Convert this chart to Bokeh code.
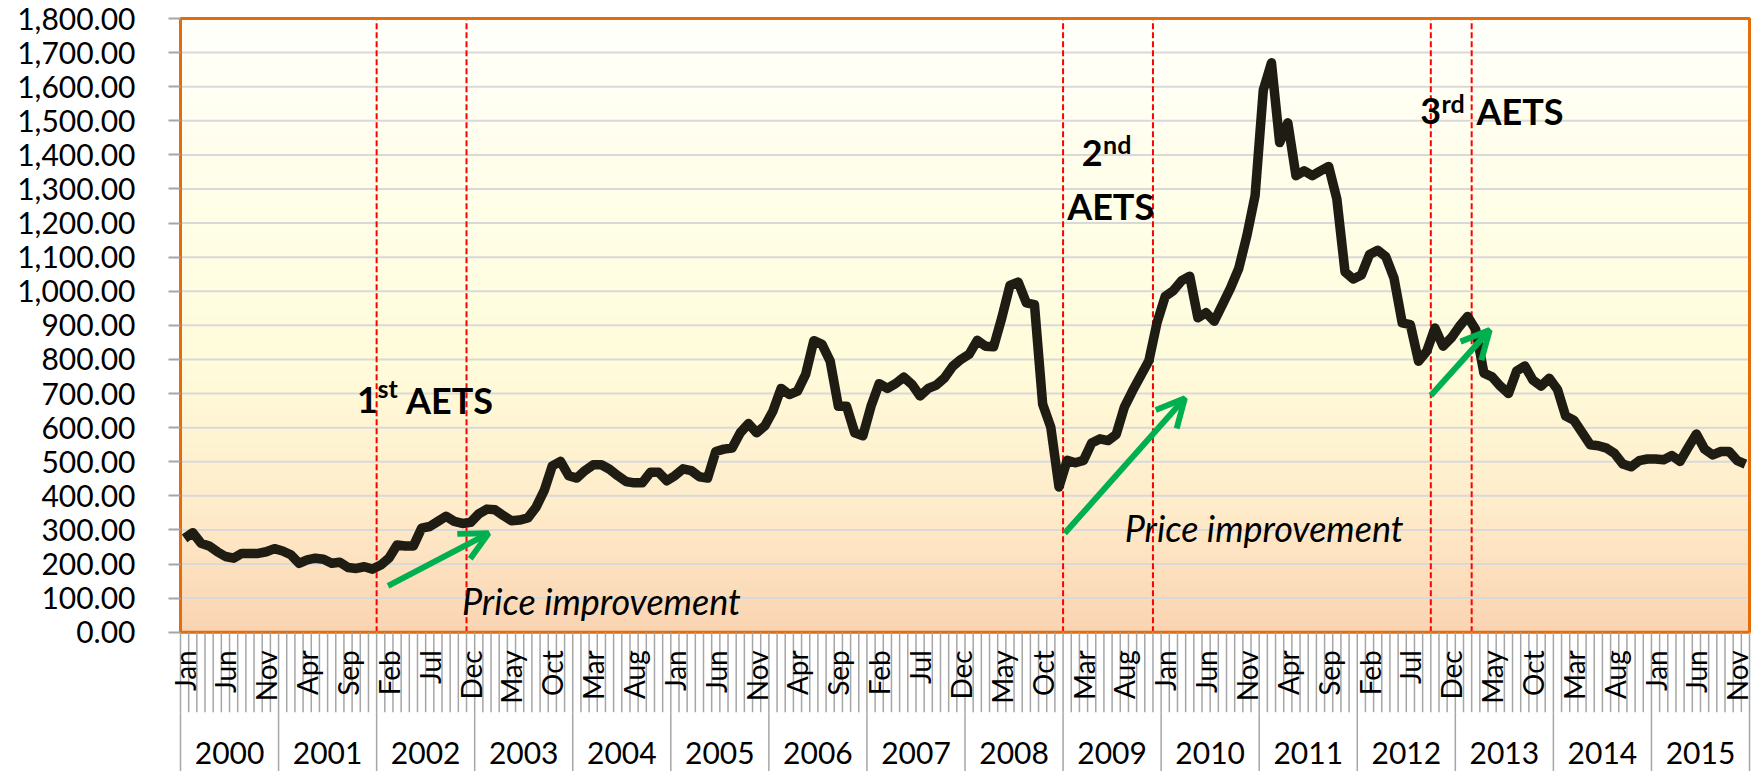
import numpy as np
from bokeh.plotting import figure
from bokeh.models import Range1d, FixedTicker, NumeralTickFormatter, Arrow, OpenHead
from bokeh.core.properties import value
from bokeh.embed import file_html
from bokeh.resources import INLINE

# ---------------- data ----------------
years = [str(y) for y in range(2000, 2016)]
month_names = ["Jan", "Feb", "Mar", "Apr", "May", "Jun",
               "Jul", "Aug", "Sep", "Oct", "Nov", "Dec"]

p2000 = [275, 292, 261, 253, 236, 222, 217, 231, 231, 231, 236, 245]
p2001 = [238, 227, 202, 212, 217, 214, 202, 205, 190, 187, 192, 185]
p2002 = [197, 217, 256, 253, 253, 305, 310, 325, 340, 325, 319, 322]
p2003 = [347, 361, 359, 342, 327, 329, 335, 366, 415, 488, 501, 459]
p2004 = [452, 474, 491, 491, 478, 459, 442, 438, 438, 469, 469, 444]
p2005 = [459, 479, 474, 456, 452, 530, 537, 540, 585, 612, 585, 605]
p2006 = [649, 715, 697, 707, 756, 855, 844, 795, 663, 663, 585, 576]
p2007 = [663, 729, 715, 729, 748, 727, 693, 715, 725, 746, 780, 800]
p2008 = [815, 856, 839, 837, 922, 1017, 1027, 966, 961, 669, 601, 426]
p2009 = [504, 497, 504, 555, 567, 562, 580, 660, 708, 752, 796, 908]
p2010 = [985, 1002, 1031, 1044, 922, 937, 912, 961, 1010, 1067, 1164, 1281]
p2011 = [1590, 1670, 1436, 1494, 1339, 1353, 1339, 1353, 1366, 1271, 1057, 1036]
p2012 = [1048, 1108, 1120, 1101, 1038, 907, 902, 795, 824, 892, 839, 863]
p2013 = [897, 926, 887, 760, 749, 722, 700, 766, 781, 739, 722, 745]
p2014 = [712, 634, 622, 586, 550, 547, 540, 524, 493, 485, 503, 508]
p2015 = [508, 506, 518, 501, 542, 581, 537, 520, 530, 530, 503, 493]

prices = (p2000 + p2001 + p2002 + p2003 + p2004 + p2005 + p2006 + p2007 +
          p2008 + p2009 + p2010 + p2011 + p2012 + p2013 + p2014 + p2015)

# month index (from Jan 2000) where the AETS marker lines sit
aets_lines = [24, 35, 108, 119, 153, 158]

y_ticks = list(range(0, 1801, 100))

# ---------------- layout constants ----------------
N = len(prices)
X0, X1 = -0.979, 192.61
Y0, Y1 = -408.6, 1852.8
YMAX = 1800
TICK_BOTTOM = -234.6
MONTH_LABEL_Y = -53
YEAR_LABEL_Y = -355.8

FONT = value("Lato")
ORANGE = "#E46C0A"
GREEN = "#00B050"
GRAY = "#A6A6A6"

p = figure(width=1754, height=771, x_range=Range1d(X0, X1), y_range=Range1d(Y0, Y1),
           output_backend="svg", toolbar_location=None, x_axis_location=None,
           min_border_left=172, min_border_right=0, min_border_top=0, min_border_bottom=0)
p.outline_line_color = None
p.background_fill_color = "white"
p.border_fill_color = "white"
p.xgrid.visible = False
p.ygrid.visible = False

# gradient plot-area background (white -> pale yellow -> peach)
stops_v = [0, 350, 800, 1300, 1800]
stops_c = [(250, 212, 178), (254, 235, 201), (255, 252, 219), (255, 254, 233), (255, 255, 251)]
nb = 120
edges = np.linspace(0, YMAX, nb + 1)
cols = []
for k in range(nb):
    m = 0.5 * (edges[k] + edges[k + 1])
    rgb = [int(round(np.interp(m, stops_v, [c[j] for c in stops_c]))) for j in range(3)]
    cols.append("#%02x%02x%02x" % tuple(rgb))
p.quad(left=0, right=N, bottom=edges[:-1], top=np.minimum(edges[1:] + 4, YMAX),
       fill_color=cols, line_color=None)

# horizontal gridlines inside the plot area
grid_vals = y_ticks[1:-1]
p.segment(x0=[0] * len(grid_vals), y0=grid_vals, x1=[N] * len(grid_vals), y1=grid_vals,
          line_color="#D9D9D9", line_width=2)

# y axis
ax = p.yaxis[0]
ax.ticker = FixedTicker(ticks=y_ticks)
ax.formatter = NumeralTickFormatter(format="0,0.00")
ax.axis_line_color = None
ax.major_tick_out = 4
ax.major_tick_in = 8
ax.major_tick_line_color = GRAY
ax.major_tick_line_width = 2
ax.minor_tick_line_color = None
ax.major_label_standoff = 33
ax.major_label_text_font = "Lato"
ax.major_label_text_font_size = "30px"
ax.major_label_text_color = "black"

# AETS marker lines
p.segment(x0=aets_lines, y0=0, x1=aets_lines, y1=YMAX, line_color="#FF0000",
          line_width=2, line_dash="6 3")

# price series
x_mid = [i + 0.5 for i in range(N)]
p.line(x=x_mid, y=prices, line_color="#1F1D13", line_width=9.5, line_join="round")

# plot-area border
p.quad(left=0, right=N, bottom=0, top=YMAX, fill_color=None, line_color=ORANGE, line_width=3)

# category axis: month ticks, year separators, labels
month_edges = list(range(0, N + 1))
p.segment(x0=month_edges, y0=0, x1=month_edges, y1=TICK_BOTTOM, line_color=GRAY, line_width=1.5)
year_edges = list(range(0, N + 1, 12))
p.segment(x0=year_edges, y0=TICK_BOTTOM, x1=year_edges, y1=Y0, line_color=GRAY, line_width=1.5)

lab_idx = list(range(0, N, 5))
p.text(x=[i + 0.5 for i in lab_idx], y=[MONTH_LABEL_Y] * len(lab_idx),
       text=[month_names[i % 12] for i in lab_idx], angle=np.pi / 2,
       text_align="right", text_baseline="middle", text_font=FONT,
       text_font_size="28px", text_color="black")
p.text(x=[12 * k + 6 for k in range(len(years))], y=[YEAR_LABEL_Y] * len(years), text=years,
       text_align="center", text_baseline="middle", text_font=FONT,
       text_font_size="30px", text_color="black")

# annotations
big = dict(text_font=FONT, text_font_size="36px", text_font_style="bold",
           text_color="black", text_align="left", text_baseline="middle")
sup = dict(text_font=FONT, text_font_size="25px", text_font_style="bold",
           text_color="black", text_align="left", text_baseline="middle")
p.text(x=[21.6, 27.6, 110.3, 108.5, 151.7, 158.6], y=[682, 682, 1405, 1251, 1530, 1530],
       text=["1", "AETS", "2", "AETS", "3", "AETS"], **big)
p.text(x=[24.1, 112.9, 154.3], y=[716, 1433, 1553], text=["st", "nd", "rd"], **sup)

p.text(x=[51.5, 132.6], y=[91, 307], text=["Price improvement", "Price improvement"],
       text_font=FONT, text_font_size="36px", text_font_style="italic",
       text_color="black", text_align="center", text_baseline="middle")

arrows = [(25.4, 136, 37.7, 290), (108.2, 290, 122.9, 686), (153.0, 694, 160.2, 886)]
for xs, ys, xe, ye in arrows:
    p.add_layout(Arrow(end=OpenHead(line_color=GREEN, line_width=6, size=28),
                       x_start=xs, y_start=ys, x_end=xe, y_end=ye,
                       line_color=GREEN, line_width=6))

open("out.html", "w").write(file_html(p, INLINE))
